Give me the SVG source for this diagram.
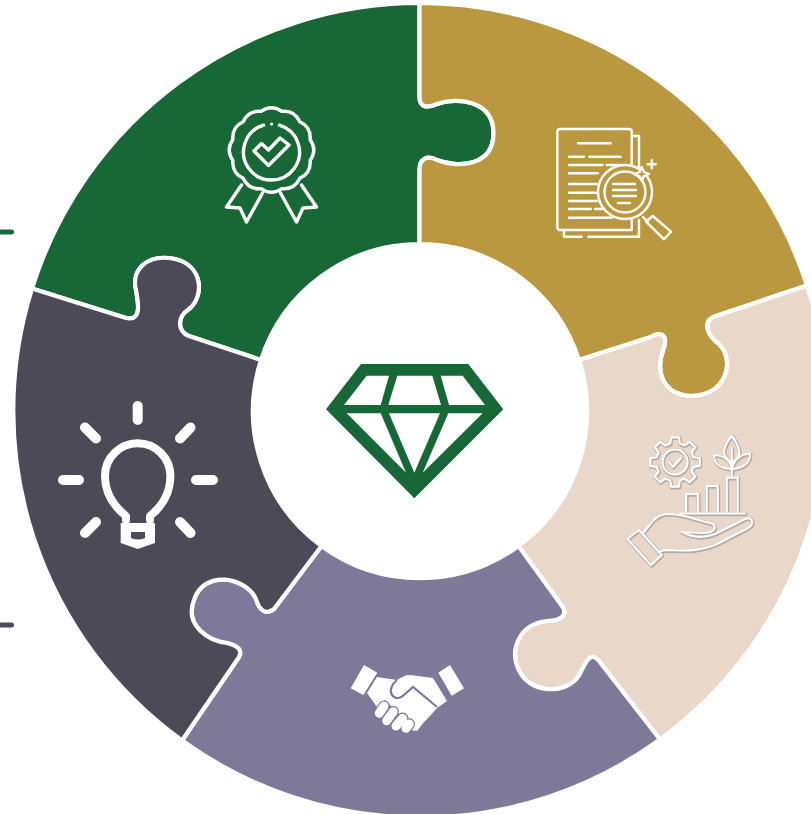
<svg xmlns="http://www.w3.org/2000/svg" width="811" height="814" viewBox="0 0 811 814">
<style>
.seg{stroke:#fff;stroke-width:4.2;stroke-linejoin:round}
.ic{fill:none;stroke:#fff;stroke-linecap:round;stroke-linejoin:round}
.shadow{fill:none;stroke:#b3aaa3;stroke-width:3.8;stroke-linecap:round;stroke-linejoin:round}
.line{fill:none;stroke:#fff;stroke-width:2.2;stroke-linecap:round;stroke-linejoin:round}
</style>
<defs>
<g id="growth">
<path transform="translate(675,462)" d="M18.4,-4.9L24.7,-3.9L24.7,3.9L18.4,4.9L16.5,9.5L20.2,14.7L14.7,20.2L9.5,16.5L4.9,18.4L3.9,24.7L-3.9,24.7L-4.9,18.4L-9.5,16.5L-14.7,20.2L-20.2,14.7L-16.5,9.5L-18.4,4.9L-24.7,3.9L-24.7,-3.9L-18.4,-4.9L-16.5,-9.5L-20.2,-14.7L-14.7,-20.2L-9.5,-16.5L-4.9,-18.4L-3.9,-24.7L3.9,-24.7L4.9,-18.4L9.5,-16.5L14.7,-20.2L20.2,-14.7L16.5,-9.5Z"/>
<circle cx="675" cy="462" r="12.5"/>
<path d="M669,462L673,467L681,458"/>
<path d="M731.7,436C726,442 722,452 725,456C727,459 729,461 731.7,462C734,461 737,459 738.5,456C741,452 737,442 731.7,436Z"/>
<path d="M714,455C714,462 717,468 731.7,469C731,461 724,455 714,455Z"/>
<path d="M750,453.5C750,462 746,468 732,469C733,461 740,454 750,453.5Z"/>
<path d="M731.7,448V477"/>
<path d="M686,512V494H698V512"/>
<path d="M706.7,512V486H717.7V512"/>
<path d="M726.7,512V477.7H737.7V512"/>
<path d="M680,513.5H745"/>
<path d="M627.3,539L639,530L661.7,555L651,565Z"/>
<path d="M643,533C650,525 655,514 668,514C685,514 695,520 710,523C718,525 716,532 705,533L682,532C695,539 705,538 715,534L745,519C752,516 755,524 748,528L715,545C695,553 680,550 665,550L658,552"/>
</g>
</defs>
<g id="connectors">
<line x1="0" y1="232" x2="11.500" y2="232" stroke="#186737" stroke-width="5" stroke-linecap="round"/>
<line x1="0" y1="625" x2="11.500" y2="625" stroke="#4c4a57" stroke-width="5" stroke-linecap="round"/>
</g>
<g id="node-green">
<path class="seg" fill="#186737" d="M32,288.500A407 407 0 0 1 419.500,3V97C419.500,108 428,108 437,104C457,97 493.500,100 493.500,133C493.500,167 457,168 437,160C428,155 419.500,158 419.500,170V244A167 167 0 0 0 261,360L189,336C177,331 177,317 189,309C204,297 204,266 175,259C146,253 131,271 136,290C139,306 141,321 126,318Z"/>
<g transform="translate(271.500,150)" class="ic" stroke-width="3.400">
<path d="M38.600,-10.400Q46,0 38.600,10.400Q39.800,23 28.300,28.300Q23,39.800 10.400,38.600Q0,46 -10.400,38.600Q-23,39.800 -28.300,28.300Q-39.800,23 -38.600,10.400Q-46,0 -38.600,-10.400Q-39.800,-23 -28.300,-28.300Q-23,-39.800 -10.400,-38.600Q0,-46 10.400,-38.600Q23,-39.800 28.300,-28.300Q39.800,-23 38.600,-10.400Z"/>
<path d="M-8,-24.800A28 28 0 1 0 8,-24.800"/>
<path d="M-17.500,1L-3,15.500L17.500,-5L8.500,-12L-3,0L-10,-6.500Z"/>
<path d="M-30,35L-45,57L-31.500,58L-25,72L-9,43"/>
<path d="M30,35L45,57L31.500,58L25,72L9,43"/>
</g>
<circle cx="271.500" cy="124" r="1.600" fill="#fff"/>
</g>
<g id="node-gold">
<path class="seg" fill="#ba9840" d="M419.500,3A407 407 0 0 1 807,285.500L716,316C701,321 708,336 719,344C736,361 726,396 691,396C661,394 656,370 663,350.500C669,335 661,331 651,337L579,360A167 167 0 0 0 419.500,244V170C419.500,158 428,155 437,160C457,168 493.500,167 493.500,133C493.500,100 457,97 437,104C428,108 419.500,108 419.500,97Z"/>
<g class="ic" stroke-width="2.400">
<path d="M631.700,172V132Q631.700,129 628.700,129H560.300Q557.300,129 557.300,132V227Q557.300,230 560.300,230H631.700V220"/>
<path d="M633,136H639V168M639,220V236.700H588.300M581.700,236.700H564V231"/>
<path d="M578,143.300H610.700M569,156.700H584M589.300,156.700H620.700M569,165H602.300M606.700,165H620M569,173.300H598M569,184H596.700M569,192.700H596.700M569,201H596.700M569,209H590.700M595,209H602M569,217.700H611.700"/>
<circle cx="625" cy="192" r="27" fill="#ba9840"/>
<circle cx="625" cy="192" r="20.500"/>
<path d="M613,184H635M613,190H636M613,196H636M618,203H630"/>
<path d="M652.700,216L671,231.700L664,239.300L646,221.700Z"/>
<path d="M643,217L648,222"/>
<path d="M641.700,167L644,172L649,174L644,176L641.700,181L639.500,176L634.500,174L639.500,172Z" fill="#ba9840"/>
<path d="M651.700,160.300V168.300M647.700,164.300H655.700"/>
</g>
</g>
<g id="node-beige">
<path class="seg" fill="#e9d7ca" d="M807,285.500A407 407 0 0 1 660,739.500L599,661C591,651 586,661 579,675.500C566,696 529,693 519,670.500C509,650 519,624 547,621C559,621 569,616 562,606L518.500,546A167 167 0 0 0 579,360L651,337C661,331 669,335 663,350.500C656,370 661,394 691,396C726,396 736,361 719,344C708,336 701,321 716,316Z"/>
<use href="#growth" class="shadow" transform="translate(0.600,0.800)"/>
<use href="#growth" class="line"/>
</g>
<g id="node-purple">
<path class="seg" fill="#7e7998" d="M321.500,546A167 167 0 0 0 518.500,546L562,606C569,616 559,621 547,621C519,624 509,650 519,670.500C529,693 566,696 579,675.500C586,661 591,651 599,661L660,739.500A407 407 0 0 1 182,740.500L237,660C244,651 239,646 227,643C209,641 184,626 194,600C204,569 246,577 256,599C259,609 265,616 274,609Z"/>
<g fill="#fff">
<path d="M364,665L377.300,672.700L363.300,695L350.700,688.300Z"/>
<path d="M450,665L464,688.300L451.700,695.700L438.300,672.700Z"/>
<path d="M367,693L377,677L397,680C402,677 405,675 410,675L433,678L447,701L437,708L430,716L424,722L417,731L410,730L400,715L385,700L377,707Z"/>
</g>
<path d="M397,680C392,684 389,690 392,695C396,700 401,698 404,695L413,687L437,707" fill="none" stroke="#7e7998" stroke-width="2.200"/>
<path d="M384,706L379.300,713.300M393.300,711.700L386.700,720.700M402.700,718.300L396,726M409.300,724L406,728.300" stroke="#7e7998" stroke-width="11.500" stroke-linecap="round" fill="none"/>
<path d="M384,706L379.300,713.300M393.300,711.700L386.700,720.700M402.700,718.300L396,726M409.300,724L406,728.300" stroke="#fff" stroke-width="9" stroke-linecap="round" fill="none"/>
</g>
<g id="node-dark">
<path class="seg" fill="#4c4a57" d="M32,288.500A407 407 0 0 0 182,740.500L237,660C244,651 239,646 227,643C209,641 184,626 194,600C204,569 246,577 256,599C259,609 265,616 274,609L321.500,546A167 167 0 0 1 261,360L189,336C177,331 177,317 189,309C204,297 204,266 175,259C146,253 131,271 136,290C139,306 141,321 126,318Z"/>
<g class="ic" stroke-width="8">
<path d="M137.700,406V420M85,427.500L96,438.500M190.500,427.500L180,438.500M63,480H79M196,480H213M96,522L85,533M180,522L190.500,533" stroke-width="10"/>
<path d="M126,520V516C116,508 105,495 105,476A32.700 32.700 0 1 1 170.400,476C170.400,495 160,508 150,516V520"/>
</g>
<path fill="#fff" fill-rule="evenodd" d="M120.700,523H155V543L137.700,549L120.700,543ZM131,532V538Q138,541 145,538V532Z"/>
</g>
<g id="node-center">
<path fill="#186737" fill-rule="evenodd" d="M361,364H468.300L503.300,409.300L414.300,498.300L326,409.300ZM366.700,375.700L344,405H380.700L389,375.700ZM397.300,375.700L388.300,405H441L432.300,375.700ZM440.700,375.700L449,405H485L462.700,375.700ZM346.700,413.300L406,472.700L380.700,413.300ZM389,413.300L414.300,472.700L440,413.300ZM448.300,413.300L422.700,472.700L482.700,413.300Z"/>
</g>
</svg>
